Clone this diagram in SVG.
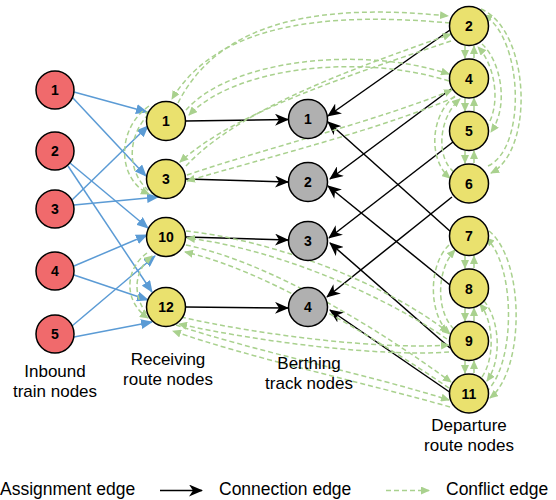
<svg xmlns="http://www.w3.org/2000/svg" width="556" height="500" viewBox="0 0 556 500">
<style>
.lbl{font-family:"Liberation Sans",Arial,sans-serif;font-size:17px;fill:#000;text-anchor:middle}
.leg{font-family:"Liberation Sans",Arial,sans-serif;font-size:17.5px;fill:#000}
.num{font-family:"Liberation Sans",Arial,sans-serif;font-size:14px;font-weight:bold;fill:#000;text-anchor:middle;dominant-baseline:central}
.red{fill:#F06A6C;stroke:#000;stroke-width:1.5}
.yel{fill:#EAE16E;stroke:#000;stroke-width:1.5}
.gry{fill:#B0B0B0;stroke:#000;stroke-width:1.5}
.asg{stroke:#5B9BD5;stroke-width:1.5;fill:none;marker-end:url(#mb)}
.con{stroke:#000;stroke-width:1.5;fill:none;marker-end:url(#mk)}
.cf{stroke:#A9D18E;stroke-width:1.5;fill:none;stroke-dasharray:5,3;marker-end:url(#mg)}
</style>
<defs>
<marker id="mb" markerWidth="12" markerHeight="10" refX="11" refY="5" orient="auto" markerUnits="userSpaceOnUse"><path d="M0,0 L12,5 L0,10 z" fill="#5B9BD5"/></marker>
<marker id="mk" markerWidth="14" markerHeight="12" refX="13" refY="6" orient="auto" markerUnits="userSpaceOnUse"><path d="M0,0 L14,6 L0,12 L4,6 z" fill="#000"/></marker>
<marker id="mg" markerWidth="9" markerHeight="8" refX="8" refY="4" orient="auto" markerUnits="userSpaceOnUse"><path d="M0,0 L9,4 L0,8 z" fill="#A9D18E"/></marker>
</defs>
<g id="connectors">
<path class="asg" d="M74,92 L147,112"/>
<path class="asg" d="M72,97 L146,176"/>
<path class="asg" d="M70,163 L148,228"/>
<path class="asg" d="M68,166 L152,292"/>
<path class="asg" d="M72,200 L148,126"/>
<path class="asg" d="M74,205 L158,197"/>
<path class="asg" d="M74,266 L147,235"/>
<path class="asg" d="M74,275 L148,300"/>
<path class="asg" d="M72,326 L155,256"/>
<path class="asg" d="M74,337 L152,322"/>
<path class="con" d="M185.5,121 L288,119.5"/>
<path class="con" d="M185.5,179 L288,182"/>
<path class="con" d="M185.5,237 L288,240"/>
<path class="con" d="M185.5,307 L288,308"/>
<path class="con" d="M450,30 L328,116"/>
<path class="con" d="M451,89 L330,179"/>
<path class="con" d="M453,142 L329,238"/>
<path class="con" d="M452,197 L327,297"/>
<path class="con" d="M451,232 L328,122"/>
<path class="con" d="M450,285 L328,186"/>
<path class="con" d="M450,348 L330,243"/>
<path class="con" d="M451,393 L330,310"/>
<path class="cf" d="M178,103 C222,16 330,4 448,16"/>
<path class="cf" d="M450,23 C330,12 218,22 172,99"/>
<path class="cf" d="M186,110 C230,60 360,45 449,74"/>
<path class="cf" d="M449,81 C360,53 235,67 189,115"/>
<path class="cf" d="M186,166 C240,108 355,68 451,34"/>
<path class="cf" d="M451,41 C350,75 235,112 180,162"/>
<path class="cf" d="M187,175 C260,150 380,120 452,90"/>
<path class="cf" d="M455,97 C385,128 265,158 187,181"/>
<path class="cf" d="M186,231 C270,240 380,280 448,332"/>
<path class="cf" d="M447,339 C375,290 270,248 187,238"/>
<path class="cf" d="M186,245 C270,262 380,330 451,382"/>
<path class="cf" d="M449,388 C375,338 265,270 185,252"/>
<path class="cf" d="M181,317 C260,335 380,350 449,345"/>
<path class="cf" d="M449,352 C380,357 260,342 179,324"/>
<path class="cf" d="M176,325 C250,350 370,375 449,400"/>
<path class="cf" d="M450,407 C370,384 250,358 173,331"/>
<path class="cf" d="M149,106 C115,130 118,180 149,194"/>
<path class="cf" d="M155,195 C126,178 124,135 153,110"/>
<path class="cf" d="M147,253 C124,270 124,302 148,318"/>
<path class="cf" d="M152,320 C132,300 132,272 152,256"/>
<path class="cf" d="M465,46 L465,58"/>
<path class="cf" d="M474,58 L474,46"/>
<path class="cf" d="M465,98 L465,111"/>
<path class="cf" d="M474,111 L474,98"/>
<path class="cf" d="M465,151 L465,163"/>
<path class="cf" d="M474,163 L474,151"/>
<path class="cf" d="M465,256 L465,268"/>
<path class="cf" d="M474,268 L474,256"/>
<path class="cf" d="M465,308 L465,321"/>
<path class="cf" d="M474,321 L474,308"/>
<path class="cf" d="M465,361 L465,373"/>
<path class="cf" d="M474,373 L474,361"/>
<path class="cf" d="M482,44 C500,60 510,105 491,132"/>
<path class="cf" d="M486,128 C502,105 495,65 478,47"/>
<path class="cf" d="M481,9 C530,30 535,150 491,173"/>
<path class="cf" d="M488,166 C527,148 523,38 484,15"/>
<path class="cf" d="M455,96 C430,115 428,160 450,178"/>
<path class="cf" d="M454,172 C436,158 438,118 460,99"/>
<path class="cf" d="M449,245 C428,265 428,315 450,334"/>
<path class="cf" d="M454,329 C436,312 436,270 455,250"/>
<path class="cf" d="M489,231 C525,260 525,370 490,398"/>
<path class="cf" d="M486,392 C516,365 516,265 486,238"/>
<path class="cf" d="M484,301 C500,320 502,360 487,381"/>
<path class="cf" d="M482,377 C495,358 494,322 480,304"/>
</g>
<g id="inbound">
<g id="r1"><circle class="red" cx="55" cy="90" r="19"/><text class="num" x="55" y="90">1</text></g>
<g id="r2"><circle class="red" cx="55" cy="151" r="19"/><text class="num" x="55" y="151">2</text></g>
<g id="r3"><circle class="red" cx="55" cy="209" r="19"/><text class="num" x="55" y="209">3</text></g>
<g id="r4"><circle class="red" cx="55" cy="271" r="19"/><text class="num" x="55" y="271">4</text></g>
<g id="r5"><circle class="red" cx="55" cy="334" r="19"/><text class="num" x="55" y="334">5</text></g>
</g>
<g id="receiving">
<g id="y1"><circle class="yel" cx="166" cy="121" r="19.5"/><text class="num" x="166" y="121">1</text></g>
<g id="y3"><circle class="yel" cx="166" cy="179" r="19.5"/><text class="num" x="166" y="179">3</text></g>
<g id="y10"><circle class="yel" cx="166" cy="237" r="19.5"/><text class="num" x="166" y="237">10</text></g>
<g id="y12"><circle class="yel" cx="166" cy="307" r="19.5"/><text class="num" x="166" y="307">12</text></g>
</g>
<g id="berthing">
<g id="g1"><circle class="gry" cx="308" cy="119" r="19.5"/><text class="num" x="308" y="119">1</text></g>
<g id="g2"><circle class="gry" cx="308" cy="182" r="19.5"/><text class="num" x="308" y="182">2</text></g>
<g id="g3"><circle class="gry" cx="308" cy="241" r="19.5"/><text class="num" x="308" y="241">3</text></g>
<g id="g4"><circle class="gry" cx="308" cy="307" r="19.5"/><text class="num" x="308" y="307">4</text></g>
</g>
<g id="departure">
<g id="d2"><circle class="yel" cx="469" cy="26" r="19.5"/><text class="num" x="469" y="26">2</text></g>
<g id="d4"><circle class="yel" cx="469" cy="78.5" r="19.5"/><text class="num" x="469" y="78.5">4</text></g>
<g id="d5"><circle class="yel" cx="469" cy="131" r="19.5"/><text class="num" x="469" y="131">5</text></g>
<g id="d6"><circle class="yel" cx="469" cy="183.5" r="19.5"/><text class="num" x="469" y="183.5">6</text></g>
<g id="d7"><circle class="yel" cx="469" cy="236" r="19.5"/><text class="num" x="469" y="236">7</text></g>
<g id="d8"><circle class="yel" cx="469" cy="288.5" r="19.5"/><text class="num" x="469" y="288.5">8</text></g>
<g id="d9"><circle class="yel" cx="469" cy="341" r="19.5"/><text class="num" x="469" y="341">9</text></g>
<g id="d11"><circle class="yel" cx="469" cy="393.5" r="19.5"/><text class="num" x="469" y="393.5">11</text></g>
</g>
<g id="labels">
<text class="lbl" x="55" y="377">Inbound</text>
<text class="lbl" x="55" y="397">train nodes</text>
<text class="lbl" x="168" y="365">Receiving</text>
<text class="lbl" x="168" y="385">route nodes</text>
<text class="lbl" x="309" y="369">Berthing</text>
<text class="lbl" x="309" y="389">track nodes</text>
<text class="lbl" x="469" y="431">Departure</text>
<text class="lbl" x="469" y="451">route nodes</text>
</g>
<g id="legend">
<text class="leg" x="0" y="495">Assignment edge</text>
<path class="con" d="M160,490.5 L202,490.5"/>
<text class="leg" x="219" y="495">Connection edge</text>
<path class="cf" d="M386,490.5 L429,490.5"/>
<text class="leg" x="446" y="495">Conflict edge</text>
</g>
</svg>
